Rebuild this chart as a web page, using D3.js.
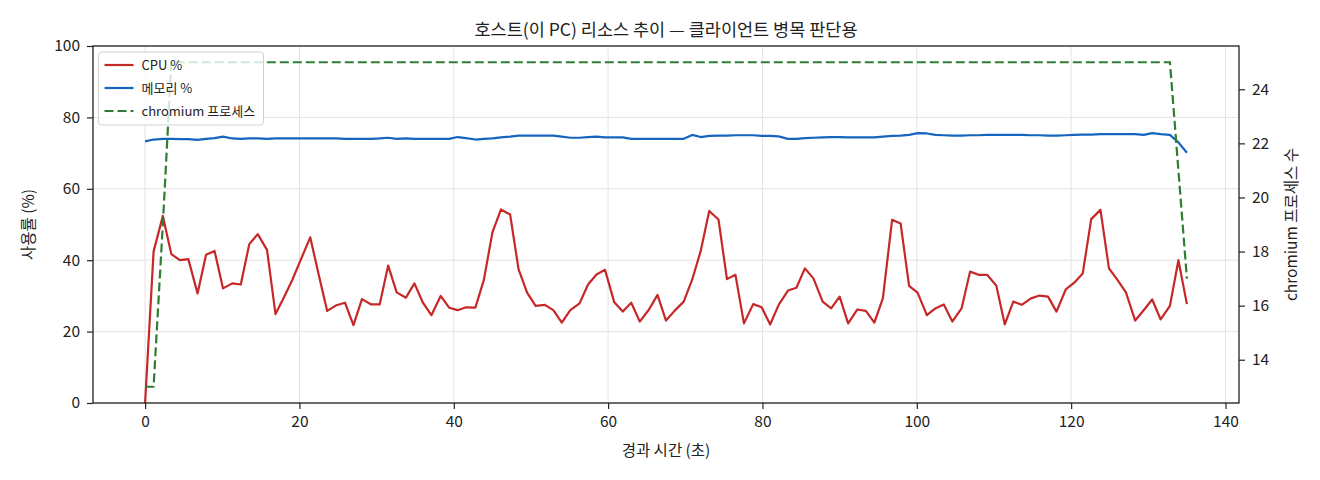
<!DOCTYPE html>
<html>
<head>
<meta charset="utf-8">
<script src="https://cdn.jsdelivr.net/npm/d3@7"></script>
<style>
  body { margin: 0; background: #fff; }
  svg text { font-family: 'Noto Sans CJK KR', 'Noto Sans', sans-serif; fill: #222; }
</style>
</head>
<body>
<svg id="chart" width="1320" height="480"></svg>
<script>
// elapsed seconds per sample
const elapsed = [
  0.0, 1.1, 2.3, 3.4, 4.5, 5.6, 6.8, 7.9, 9.0, 10.1, 11.3, 12.4, 13.5, 14.6, 15.8, 16.9,
  18.0, 19.1, 20.3, 21.4, 22.5, 23.6, 24.8, 25.9, 27.0, 28.1, 29.3, 30.4, 31.5, 32.6, 33.8, 34.9,
  36.0, 37.1, 38.3, 39.4, 40.5, 41.6, 42.8, 43.9, 45.0, 46.1, 47.3, 48.4, 49.5, 50.6, 51.8, 52.9,
  54.0, 55.1, 56.3, 57.4, 58.5, 59.6, 60.8, 61.9, 63.0, 64.1, 65.3, 66.4, 67.5, 68.6, 69.8, 70.9,
  72.0, 73.1, 74.3, 75.4, 76.5, 77.6, 78.8, 79.9, 81.0, 82.1, 83.3, 84.4, 85.5, 86.6, 87.8, 88.9,
  90.0, 91.1, 92.3, 93.4, 94.5, 95.6, 96.8, 97.9, 99.0, 100.1, 101.3, 102.4, 103.5, 104.6, 105.8, 106.9,
  108.0, 109.1, 110.3, 111.4, 112.5, 113.6, 114.8, 115.9, 117.0, 118.1, 119.3, 120.4, 121.5, 122.6, 123.8, 124.9,
  126.0, 127.1, 128.3, 129.4, 130.5, 131.6, 132.8, 133.9, 135.0
];

const cpuPct = [
  0, 42.4, 52.4, 41.7, 40.0, 40.3, 30.7, 41.5, 42.6, 32.1, 33.5, 33.2, 44.5, 47.3, 42.9, 24.9,
  29.6, 34.6, 40.8, 46.4, 35.9, 25.8, 27.4, 28.1, 21.8, 29.1, 27.6, 27.6, 38.5, 31.0, 29.5, 33.5,
  28.1, 24.6, 30.0, 26.7, 26.0, 26.8, 26.7, 34.5, 47.7, 54.2, 52.8, 37.4, 30.9, 27.2, 27.5, 26.0,
  22.5, 26.0, 27.9, 33.2, 36.0, 37.3, 28.2, 25.6, 28.1, 22.8, 26.2, 30.3, 23.1, 25.8, 28.4, 34.6,
  42.6, 53.8, 51.4, 34.7, 35.9, 22.3, 27.7, 26.8, 22.0, 27.5, 31.5, 32.3, 37.7, 34.9, 28.4, 26.5,
  29.8, 22.3, 26.2, 25.8, 22.5, 29.3, 51.3, 50.3, 32.8, 30.9, 24.6, 26.5, 27.6, 22.8, 26.5, 36.8,
  35.9, 35.9, 32.9, 22.0, 28.4, 27.5, 29.3, 30.1, 29.8, 25.6, 31.8, 33.7, 36.3, 51.5, 54.1, 37.7,
  34.5, 31.0, 23.1, 26.0, 29.0, 23.4, 27.2, 40.0, 27.7
];

const memPct = [
  73.3, 73.8, 74.0, 74.0, 73.9, 73.9, 73.7, 74.0, 74.2, 74.6, 74.1, 74.0, 74.1, 74.1, 74.0, 74.1,
  74.1, 74.1, 74.1, 74.1, 74.1, 74.1, 74.1, 74.0, 74.0, 74.0, 74.0, 74.1, 74.3, 74.0, 74.1, 74.0,
  74.0, 74.0, 74.0, 74.0, 74.5, 74.2, 73.8, 74.0, 74.1, 74.4, 74.6, 74.9, 74.9, 74.9, 74.9, 74.9,
  74.6, 74.3, 74.3, 74.5, 74.6, 74.4, 74.4, 74.4, 74.0, 74.0, 74.0, 74.0, 74.0, 74.0, 74.0, 75.1,
  74.5, 74.8, 74.9, 74.9, 75.0, 75.0, 75.0, 74.8, 74.8, 74.7, 74.0, 74.0, 74.2, 74.3, 74.4, 74.5,
  74.5, 74.4, 74.4, 74.4, 74.4, 74.6, 74.8, 74.9, 75.1, 75.6, 75.5, 75.1, 75.0, 74.9, 74.9, 75.0,
  75.0, 75.1, 75.1, 75.1, 75.1, 75.1, 75.0, 75.0, 74.9, 74.9, 75.0, 75.1, 75.2, 75.2, 75.3, 75.3,
  75.3, 75.3, 75.3, 75.1, 75.6, 75.3, 75.1, 73.0, 70.1
];

const chromiumProcs = [
  13, 13, 19, 25, 25, 25, 25, 25, 25, 25, 25, 25, 25, 25, 25, 25,
  25, 25, 25, 25, 25, 25, 25, 25, 25, 25, 25, 25, 25, 25, 25, 25,
  25, 25, 25, 25, 25, 25, 25, 25, 25, 25, 25, 25, 25, 25, 25, 25,
  25, 25, 25, 25, 25, 25, 25, 25, 25, 25, 25, 25, 25, 25, 25, 25,
  25, 25, 25, 25, 25, 25, 25, 25, 25, 25, 25, 25, 25, 25, 25, 25,
  25, 25, 25, 25, 25, 25, 25, 25, 25, 25, 25, 25, 25, 25, 25, 25,
  25, 25, 25, 25, 25, 25, 25, 25, 25, 25, 25, 25, 25, 25, 25, 25,
  25, 25, 25, 25, 25, 25, 25, 21, 17
];

const xTicks = [0, 20, 40, 60, 80, 100, 120, 140];
const leftTicks = [0, 20, 40, 60, 80, 100];
const rightTicks = [14, 16, 18, 20, 22, 24];

const seriesNames = ['CPU %', '메모리 %', 'chromium 프로세스'];
const seriesColors = ['#c62828', '#1565c0', '#2e7d32'];

const width = 1320, height = 480;
const margin = { top: 46, right: 81, bottom: 77, left: 93 };
const innerW = width - margin.left - margin.right;
const innerH = height - margin.top - margin.bottom;

const svg = d3.select('#chart');
const g = svg.append('g').attr('transform', `translate(${margin.left},${margin.top})`);

// scales (matplotlib-ish 5% padding on x and right axis)
const x = d3.scaleLinear().domain([-6.75, 141.75]).range([0, innerW]);
const yL = d3.scaleLinear().domain([0, 100]).range([innerH, 0]);
const yR = d3.scaleLinear().domain([12.4, 25.6]).range([innerH, 0]);

// grid
g.append('g').selectAll('line').data(xTicks).join('line')
  .attr('x1', d => x(d)).attr('x2', d => x(d))
  .attr('y1', 0).attr('y2', innerH)
  .attr('stroke', '#e3e3e3').attr('stroke-width', 1);
g.append('g').selectAll('line').data(leftTicks).join('line')
  .attr('x1', 0).attr('x2', innerW)
  .attr('y1', d => yL(d)).attr('y2', d => yL(d))
  .attr('stroke', '#e3e3e3').attr('stroke-width', 1);

// series
const cpuLine = d3.line().x((d, i) => x(elapsed[i])).y(d => yL(d));
const procLine = d3.line().x((d, i) => x(elapsed[i])).y(d => yR(d));

g.append('path').datum(cpuPct)
  .attr('d', cpuLine).attr('fill', 'none')
  .attr('stroke', seriesColors[0]).attr('stroke-width', 2.2)
  .attr('stroke-linejoin', 'round');

g.append('path').datum(memPct)
  .attr('d', cpuLine).attr('fill', 'none')
  .attr('stroke', seriesColors[1]).attr('stroke-width', 2.2)
  .attr('stroke-linejoin', 'round');

g.append('path').datum(chromiumProcs)
  .attr('d', procLine).attr('fill', 'none')
  .attr('stroke', seriesColors[2]).attr('stroke-width', 2.2)
  .attr('stroke-dasharray', '9,4');

// axes
const styleAxis = sel => {
  sel.select('.domain').remove();
  sel.selectAll('.tick line').attr('stroke', '#222').attr('stroke-width', 1.2);
  sel.selectAll('.tick text').style('font-size', '15.5px').attr('fill', '#222');
};

g.append('g')
  .attr('transform', `translate(0,${innerH})`)
  .call(d3.axisBottom(x).tickValues(xTicks).tickSize(6).tickPadding(7).tickFormat(d3.format('d')))
  .call(styleAxis);

g.append('g')
  .call(d3.axisLeft(yL).tickValues(leftTicks).tickSize(6).tickPadding(7).tickFormat(d3.format('d')))
  .call(styleAxis);

g.append('g')
  .attr('transform', `translate(${innerW},0)`)
  .call(d3.axisRight(yR).tickValues(rightTicks).tickSize(6).tickPadding(7).tickFormat(d3.format('d')))
  .call(styleAxis);

// spines
g.append('rect')
  .attr('width', innerW).attr('height', innerH)
  .attr('fill', 'none').attr('stroke', '#222').attr('stroke-width', 1.3);

// labels
svg.append('text')
  .attr('x', margin.left + innerW / 2).attr('y', 36)
  .attr('text-anchor', 'middle')
  .style('font-size', '17.5px')
  .text('호스트(이 PC) 리소스 추이 — 클라이언트 병목 판단용');

svg.append('text')
  .attr('x', margin.left + innerW / 2).attr('y', 456)
  .attr('text-anchor', 'middle')
  .style('font-size', '15.5px')
  .text('경과 시간 (초)');

svg.append('text')
  .attr('transform', `translate(34,${margin.top + innerH / 2}) rotate(-90)`)
  .attr('text-anchor', 'middle')
  .style('font-size', '15.5px')
  .text('사용률 (%)');

svg.append('text')
  .attr('transform', `translate(1297,${margin.top + innerH / 2}) rotate(-90)`)
  .attr('text-anchor', 'middle')
  .style('font-size', '15.5px')
  .text('chromium 프로세스 수');

// legend
const legend = svg.append('g').attr('transform', 'translate(98.5,52)');
legend.append('rect')
  .attr('width', 165).attr('height', 73).attr('rx', 3)
  .attr('fill', '#fff').attr('fill-opacity', 0.8)
  .attr('stroke', '#d0d0d0').attr('stroke-width', 1);

const rows = legend.selectAll('g.row').data(seriesNames).join('g')
  .attr('class', 'row')
  .attr('transform', (d, i) => `translate(0,${13 + i * 23})`);

rows.append('line')
  .attr('x1', 6).attr('x2', 35)
  .attr('stroke', (d, i) => seriesColors[i])
  .attr('stroke-width', 2.2)
  .attr('stroke-dasharray', (d, i) => i === 2 ? '9,4' : null);

rows.append('text')
  .attr('x', 43).attr('dy', '0.35em')
  .style('font-size', '13px')
  .text(d => d);
</script>
</body>
</html>
